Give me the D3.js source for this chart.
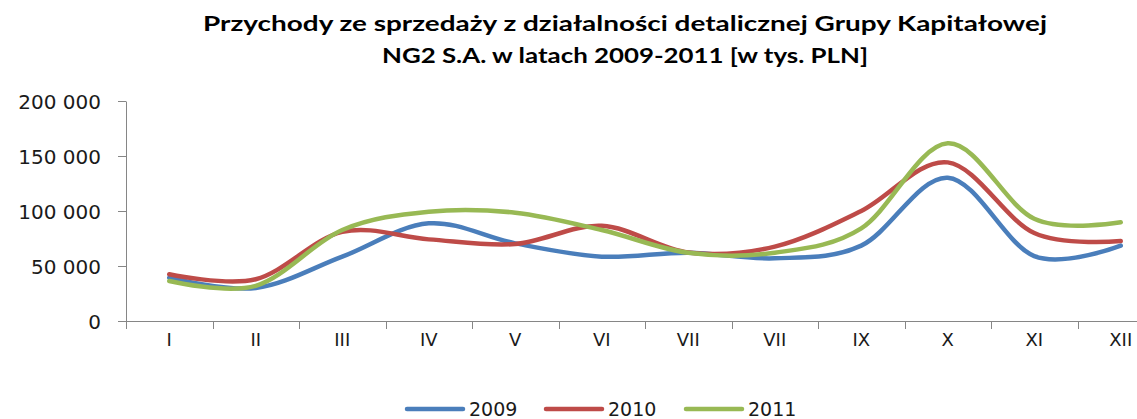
<!DOCTYPE html>
<html><head><meta charset="utf-8">
<script src="https://cdn.jsdelivr.net/npm/d3@7"></script>
<style>body{margin:0;background:#fff;overflow:hidden}svg{display:block}</style>
</head><body>
<script>
const categories = ["I","II","III","IV","V","VI","VII","VII","IX","X","XI","XII"];
const s2009 = [39400, 30000, 58500, 88800, 70600, 58500, 62000, 57000, 68500, 130300, 59000, 68500];
const s2010 = [42500, 38000, 81000, 74200, 70000, 86500, 62300, 67600, 100000, 144200, 80000, 72700];
const s2011 = [36400, 32000, 82700, 99400, 98500, 82700, 62000, 62100, 84200, 161500, 93000, 89700];
const seriesNames = ["2009","2010","2011"];
const yTicks = [0, 50000, 100000, 150000, 200000];
const titleLines = ["Przychody ze sprzedaży z działalności detalicznej Grupy Kapitałowej", "NG2 S.A. w latach 2009-2011 [w tys. PLN]"];

const W = 1137, H = 419;
const colors = ["#4A7EBB", "#BE4B48", "#98B954"];
const svg = d3.select("body").append("svg").attr("width", W).attr("height", H);

const x = d3.scaleBand().domain(d3.range(categories.length)).range([126, 1164]);
const y = d3.scaleLinear().domain([0, 200000]).range([321, 101]);

// title
svg.append("g").selectAll("text").data(titleLines).join("text")
  .attr("x", 625).attr("y", (d,i)=> 31 + i*32)
  .attr("text-anchor","middle")
  .attr("font-family","Lato, 'Open Sans', sans-serif").attr("font-weight","bold")
  .attr("font-size", 21).attr("fill","#000")
  .attr("textLength", (d,i)=> i===0 ? 844 : 486).attr("lengthAdjust","spacingAndGlyphs")
  .text(d=>d);

// y axis
const yAxis = svg.append("g").attr("transform","translate(126,0)")
  .call(d3.axisLeft(y).tickValues(yTicks).tickSize(8).tickPadding(17).tickFormat(v => v===0 ? "0" : d3.format(",")(v).replace(/,/g," ")));
yAxis.select(".domain").attr("stroke","#868686").attr("d","M0.5,101.5V321.5");
yAxis.selectAll(".tick line").attr("stroke","#868686");
yAxis.selectAll(".tick text").attr("font-family","'DejaVu Sans', sans-serif").attr("font-size",20).attr("fill","#1a1a1a").attr("dy","0.36em");

// x axis
const xAxisG = svg.append("g").attr("transform","translate(0,321)");
xAxisG.append("line").attr("x1",126).attr("x2",W).attr("y1",0.5).attr("y2",0.5).attr("stroke","#868686");
xAxisG.selectAll("line.tk").data(d3.range(categories.length+1)).join("line").attr("class","tk")
  .attr("x1", i => Math.round(i<categories.length ? x(i) : x(i-1)+x.bandwidth())+0.5)
  .attr("x2", i => Math.round(i<categories.length ? x(i) : x(i-1)+x.bandwidth())+0.5)
  .attr("y1",0).attr("y2",8).attr("stroke","#868686");
xAxisG.selectAll("text").data(categories).join("text")
  .attr("x",(d,i)=> x(i)+x.bandwidth()/2).attr("y",25)
  .attr("text-anchor","middle").attr("font-family","'DejaVu Sans', sans-serif")
  .attr("font-size",18).attr("fill","#1a1a1a").text(d=>d);

// lines
const line = d3.line().x((d,i)=> x(i)+x.bandwidth()/2).y(d=>y(d)).curve(d3.curveCatmullRom.alpha(0));
const all = [s2009, s2010, s2011];
svg.append("g").selectAll("path").data(all).join("path")
  .attr("d", line).attr("fill","none").attr("stroke",(d,i)=>colors[i])
  .attr("stroke-width",4.5).attr("stroke-linecap","round").attr("stroke-linejoin","round");

// legend
const legX = [407, 546, 686];
const lg = svg.append("g").selectAll("g").data(seriesNames).join("g")
  .attr("transform",(d,i)=>`translate(${legX[i]},409)`);
lg.append("line").attr("x1",0).attr("x2",56).attr("y1",0).attr("y2",0)
  .attr("stroke",(d,i)=>colors[i]).attr("stroke-width",4.5).attr("stroke-linecap","round");
lg.append("text").attr("x",62).attr("y",7).attr("font-family","'DejaVu Sans', sans-serif")
  .attr("font-size",19).attr("fill","#1a1a1a").text(d=>d);
</script>
</body></html>
